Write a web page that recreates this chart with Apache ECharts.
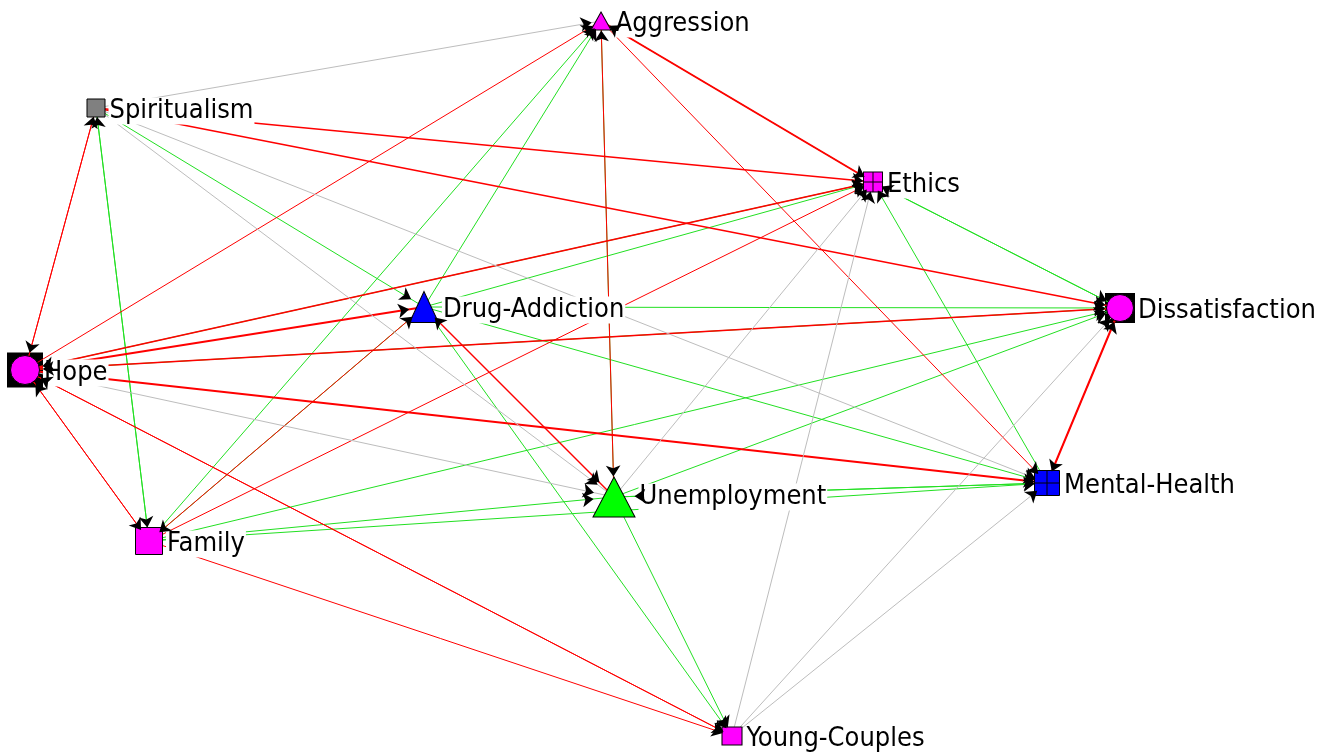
<!DOCTYPE html>
<html><head><meta charset="utf-8">
<script src="https://cdn.jsdelivr.net/npm/echarts@6/dist/echarts.min.js"></script>
<style>html,body{margin:0;padding:0;background:#fff}#c{width:1326px;height:756px}</style>
</head><body><div id="c"></div>
<script>
// ---- data ----
const nodeNames = ['Aggression','Spiritualism','Ethics','Dissatisfaction','Drug-Addiction','Hope','Unemployment','Mental-Health','Family','Young-Couples'];
// positive (green) ties: [from, to]
const positiveTies = [
  ['Spiritualism','Family'],['Family','Spiritualism'],['Spiritualism','Drug-Addiction'],
  ['Ethics','Hope'],['Dissatisfaction','Hope'],['Ethics','Aggression'],['Unemployment','Aggression'],
  ['Drug-Addiction','Aggression'],['Family','Aggression'],['Ethics','Dissatisfaction'],['Dissatisfaction','Ethics'],
  ['Mental-Health','Ethics'],['Drug-Addiction','Ethics'],['Drug-Addiction','Dissatisfaction'],
  ['Drug-Addiction','Mental-Health'],['Drug-Addiction','Young-Couples'],['Drug-Addiction','Family'],
  ['Unemployment','Dissatisfaction'],['Family','Dissatisfaction'],['Unemployment','Mental-Health'],
  ['Mental-Health','Unemployment'],['Family','Mental-Health'],['Unemployment','Young-Couples'],['Family','Unemployment']
];
// negative (red) ties: [from, to, strength]
const negativeTies = [
  ['Spiritualism','Ethics',1.5],['Spiritualism','Dissatisfaction',1.5],['Spiritualism','Hope',1],['Hope','Spiritualism',1],
  ['Hope','Aggression',1],['Hope','Ethics',1.5],['Hope','Dissatisfaction',1.5],['Hope','Drug-Addiction',2],['Hope','Mental-Health',2],
  ['Hope','Young-Couples',1],['Young-Couples','Hope',1],['Hope','Family',1],['Family','Hope',1],
  ['Aggression','Ethics',2],['Aggression','Mental-Health',1],['Aggression','Unemployment',1],
  ['Family','Ethics',1],['Drug-Addiction','Unemployment',1.5],['Unemployment','Drug-Addiction',1],['Family','Drug-Addiction',1],
  ['Dissatisfaction','Mental-Health',2],['Mental-Health','Dissatisfaction',1],['Family','Young-Couples',1]
];
// neutral (gray) ties: [from, to]
const neutralTies = [
  ['Spiritualism','Aggression'],['Spiritualism','Unemployment'],['Spiritualism','Mental-Health'],
  ['Hope','Unemployment'],['Unemployment','Ethics'],['Young-Couples','Ethics'],
  ['Young-Couples','Dissatisfaction'],['Young-Couples','Mental-Health']
];

// ---- layout / style (not data) ----
const layoutXY = {
  'Aggression':[601,21],'Spiritualism':[96,108],'Ethics':[873,182],'Dissatisfaction':[1120,308],
  'Drug-Addiction':[424,307],'Hope':[25,370],'Unemployment':[614,497],'Mental-Health':[1047,483],
  'Family':[149,541],'Young-Couples':[732,736]
};
const gridSq = 'path://M0,0H2V2H0Z M1,0V2 M0,1H2';
const nodeLook = {
  'Aggression':{symbol:'triangle',size:[20,18],color:'#ff00ff'},
  'Spiritualism':{symbol:'rect',size:[18,18],color:'#808080'},
  'Ethics':{symbol:gridSq,size:[19,20],color:'#ff00ff'},
  'Dissatisfaction':{symbol:'circle',size:[27,27],color:'#ff00ff',back:[30,30]},
  'Drug-Addiction':{symbol:'triangle',size:[29,31],color:'#0000ff'},
  'Hope':{symbol:'circle',size:[29,29],color:'#ff00ff',back:[36,35]},
  'Unemployment':{symbol:'triangle',size:[42,40],color:'#00ff00'},
  'Mental-Health':{symbol:gridSq,size:[25,25],color:'#0000ff'},
  'Family':{symbol:'rect',size:[27,27],color:'#ff00ff'},
  'Young-Couples':{symbol:'rect',size:[20,18],color:'#ff00ff'}
};
const labelOffset = {'Unemployment':[0,-3]};

const lineLook = {
  pos:{color:'#22e022',type:'solid'},
  neg:{color:'#ff0000',type:'solid'},
  neu:{color:'#bdbdbd',type:'solid'}
};

const allLinks = [];
positiveTies.forEach(t=>allLinks.push({source:t[0],target:t[1],k:'pos',w:1}));
negativeTies.forEach(t=>allLinks.push({source:t[0],target:t[1],k:'neg',w:t[2]}));
neutralTies.forEach(t=>allLinks.push({source:t[0],target:t[1],k:'neu',w:1}));

const backNodes = nodeNames.filter(n=>nodeLook[n].back).map(n=>({
  name:n, value:layoutXY[n], symbol:'rect', symbolSize:nodeLook[n].back,
  itemStyle:{color:'#000'}
}));

const mainNodes = nodeNames.map(n=>{
  const off = labelOffset[n]||[0,0];
  return {
  name:n, value:layoutXY[n], symbol:nodeLook[n].symbol, symbolSize:nodeLook[n].size,
  itemStyle:{color:nodeLook[n].color,borderColor:'#000',borderWidth:1},
  label:{show:true,position:'right',distance:3,offset:[off[0],off[1]+3],
    formatter:n,color:'#000',fontFamily:'DejaVu Sans Condensed',fontSize:27,backgroundColor:'#fff',padding:[0,1]}
}});

const arrowNodes = nodeNames.map(n=>({
  name:n, value:layoutXY[n], symbol:'rect', symbolSize:nodeLook[n].back||nodeLook[n].size,
  itemStyle:{opacity:0}
}));

const chart = echarts.init(document.getElementById('c'));
chart.setOption({
  animation:false,
  backgroundColor:'#fff',
  grid:{left:0,right:0,top:0,bottom:0},
  xAxis:{type:'value',min:0,max:1326,show:false},
  yAxis:{type:'value',min:0,max:756,inverse:true,show:false},
  series:[
    {type:'graph',coordinateSystem:'cartesian2d',silent:true,z:1,data:backNodes,links:[],label:{show:false}},
    {type:'graph',coordinateSystem:'cartesian2d',silent:true,z:2,data:mainNodes,
      links:allLinks.map(l=>({source:l.source,target:l.target,lineStyle:{color:lineLook[l.k].color,width:l.w,type:lineLook[l.k].type,opacity:1,curveness:0}})),
      edgeSymbol:['none','none']},
    {type:'graph',coordinateSystem:'cartesian2d',silent:true,z:3,data:arrowNodes,
      links:allLinks.map(l=>({source:l.source,target:l.target})),
      edgeSymbol:['none','arrow'],edgeSymbolSize:11,
      lineStyle:{color:'#000',width:0.01,type:'solid',opacity:1,curveness:0},label:{show:false}}
  ]
});
</script></body></html>
